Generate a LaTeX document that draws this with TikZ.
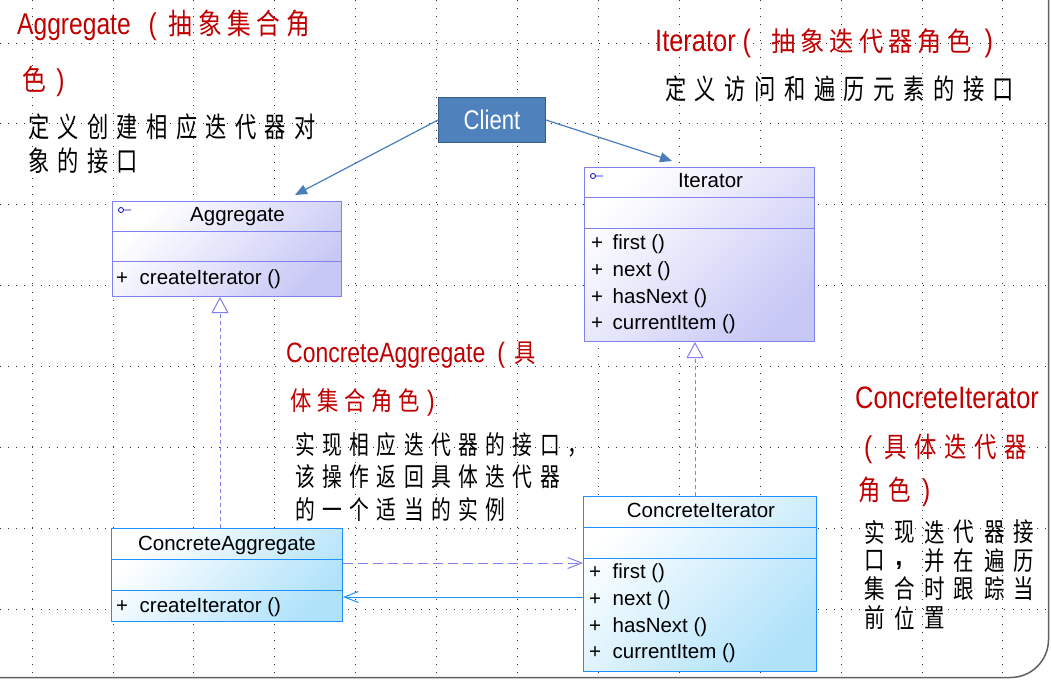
\documentclass[tikz,border=0pt]{standalone}
\usepackage{fontspec}
\usepackage{graphicx}
\setmainfont{Liberation Sans}
\newfontfamily\narrowfont[FakeStretch=0.82]{Liberation Sans}
\newfontfamily\cjk{Noto Sans CJK SC}
\usetikzlibrary{arrows.meta,calc}
\definecolor{ifaceB}{RGB}{128,128,240}
\definecolor{ifaceF}{RGB}{200,200,246}
\definecolor{implB}{RGB}{30,144,255}
\definecolor{implF}{RGB}{176,226,250}
\definecolor{cliF}{RGB}{79,129,189}
\definecolor{cliB}{RGB}{56,93,138}
\definecolor{cliline}{RGB}{74,126,187}
\definecolor{periw}{RGB}{128,128,240}
\definecolor{redtxt}{RGB}{192,0,0}
\definecolor{iconB}{RGB}{0,0,192}
\definecolor{frameC}{RGB}{96,96,96}
\makeatletter
\def\gapchars#1#2{\def\gc@gap{#1}\gc@loop#2\relax}
\def\gc@loop#1{\ifx\relax#1\else#1\hspace{\gc@gap}\expandafter\gc@loop\fi}
\makeatother
\newcommand\cjkline[4]{\scalebox{#2}[1]{\cjk\fontsize{#1}{#1}\selectfont\gapchars{#3}{#4}}}
\newcommand\nar[1]{\narrowfont\fontsize{#1}{#1}\selectfont}
\begin{document}
\begin{tikzpicture}[x=1pt,y=-1pt,
  gridline/.style={black!80, line width=0.8pt, dash pattern=on 0.8pt off 7.3pt},
  frameline/.style={draw=frameC, line width=1.5pt},
  ibox/.style={draw=ifaceB, line width=1pt, top color=white, bottom color=ifaceF, shading angle=45, inner sep=0, anchor=north west},
  cbox/.style={draw=implB, line width=1pt, top color=white, bottom color=implF, shading angle=45, inner sep=0, anchor=north west},
  iline/.style={draw=ifaceB, line width=1pt},
  cline/.style={draw=implB, line width=1pt},
  ttl/.style={inner sep=0, anchor=base, font=\fontsize{20.5}{24}\selectfont},
  mem/.style={inner sep=0, anchor=base west, font=\fontsize{20.5}{24}\selectfont},
  txt/.style={inner sep=0, anchor=base west},
  cliarrow/.style={draw=cliline, line width=1.2pt, -{Triangle[length=12pt,width=10pt]}},
  realize/.style={draw=periw, line width=1pt, dash pattern=on 4pt off 3pt, -{Triangle[length=16pt,width=17pt,fill=white]}},
  depend/.style={draw=periw, line width=1pt, dash pattern=on 10pt off 5pt, -{Straight Barb[length=14pt,width=11pt]}},
  assocB/.style={draw=implB, line width=1pt, -{Straight Barb[length=14pt,width=11pt]}},
  civ/.style={inner sep=0, anchor=center}
]
\useasboundingbox (0,0) rectangle (1051,684);
\fill[white] (0,0) rectangle (1051,684);
% grid
\foreach \i in {0,...,12} \draw[gridline] ({32+80.9*\i},0) -- ({32+80.9*\i},677);
\foreach \j in {0,...,7} \draw[gridline] (0,{43+80.9*\j}) -- (1048,{43+80.9*\j});
% frame
\draw[frameline, rounded corners=38pt] (1048.5,0) -- (1048.5,677.5) -- (0,677.5);

% ---- Aggregate
\node[ibox, minimum width=229pt, minimum height=95pt] (agg) at (112,201) {};
\draw[iline] ($(agg.north west)+(0,31)$) -- ($(agg.north east)+(0,31)$);
\draw[iline] ($(agg.north west)+(0,61)$) -- ($(agg.north east)+(0,61)$);
\draw[iconB, line width=0.8pt] ($(agg.north west)+(9,9)$) circle (2.5pt) ++(2.5,0) -- ++(7.5,0);
\node[ttl] (aggT) at (237.5,222) {Aggregate};
\node[mem] (aggP1) at (116,285) {+};
\node[mem] (aggM1) at (139.5,285) {createIterator ()};

% ---- Iterator
\node[ibox, minimum width=230pt, minimum height=174pt] (it) at (584,167) {};
\draw[iline] ($(it.north west)+(0,31)$) -- ($(it.north east)+(0,31)$);
\draw[iline] ($(it.north west)+(0,62)$) -- ($(it.north east)+(0,62)$);
\draw[iconB, line width=0.8pt] ($(it.north west)+(9,9)$) circle (2.5pt) ++(2.5,0) -- ++(7.5,0);
\node[ttl] (itT) at (710.5,188) {Iterator};
\node[mem] (itP1) at (591,250) {+};
\node[mem] (itM1) at (612.5,250) {first ()};
\node[mem] (itP2) at (591,277) {+};
\node[mem] (itM2) at (612.5,277) {next ()};
\node[mem] (itP3) at (591,303) {+};
\node[mem] (itM3) at (612.5,303) {hasNext ()};
\node[mem] (itP4) at (591,329) {+};
\node[mem] (itM4) at (612.5,329) {currentItem ()};

% ---- ConcreteAggregate
\node[cbox, minimum width=231pt, minimum height=93pt] (ca) at (111,528) {};
\draw[cline] ($(ca.north west)+(0,31)$) -- ($(ca.north east)+(0,31)$);
\draw[cline] ($(ca.north west)+(0,62)$) -- ($(ca.north east)+(0,62)$);
\node[ttl] (caT) at (227,550) {ConcreteAggregate};
\node[mem] (caP1) at (116,612) {+};
\node[mem] (caM1) at (139.5,612) {createIterator ()};

% ---- ConcreteIterator
\node[cbox, minimum width=233pt, minimum height=175pt] (ci) at (583,496) {};
\draw[cline] ($(ci.north west)+(0,31)$) -- ($(ci.north east)+(0,31)$);
\draw[cline] ($(ci.north west)+(0,62)$) -- ($(ci.north east)+(0,62)$);
\node[ttl] (ciT) at (701,517) {ConcreteIterator};
\node[mem] (ciP1) at (589,578) {+};
\node[mem] (ciM1) at (612.5,578) {first ()};
\node[mem] (ciP2) at (589,605) {+};
\node[mem] (ciM2) at (612.5,605) {next ()};
\node[mem] (ciP3) at (589,632) {+};
\node[mem] (ciM3) at (612.5,632) {hasNext ()};
\node[mem] (ciP4) at (589,658) {+};
\node[mem] (ciM4) at (612.5,658) {currentItem ()};

% ---- Client
\node[draw=cliB, fill=cliF, line width=1pt, anchor=north west, inner sep=0,
      minimum width=107pt, minimum height=45pt, text=white, font=\nar{27}] (client) at (438,97) {Client};

% ---- connectors
\coordinate (aggIn) at (295,195);
\coordinate (itIn) at (672,161);
\draw[cliarrow] (client.west) -- (aggIn);
\draw[cliarrow] (client.east) -- (itIn);
\draw[realize] ($(ca.north west)+(109,0)$) -- ($(agg.south west)+(108,0)$);
\draw[realize] ($(ci.north west)+(112,0)$) -- ($(it.south west)+(111,0)$);
\draw[depend] ($(ca.north east)+(0,35)$) -- ($(ci.north west)+(0,67)$);
\draw[assocB] ($(ci.north west)+(0,101)$) -- ($(ca.north east)+(0,69)$);

% ---- annotation texts
\node[txt, text=redtxt] (aggR1) at (17,35) {\nar{30}Aggregate\hspace{18pt}(\hspace{12pt}\cjkline{29}{0.82}{6.7pt}{抽象集合角}};
\node[txt, text=redtxt] (aggR2) at (22,91) {\cjkline{29}{0.82}{6.7pt}{色}\hspace{5pt}{\nar{30})}};
\node[txt] (aggB1) at (28,138) {\cjkline{28}{0.76}{10.9pt}{定义创建相应迭代器对}};
\node[txt] (aggB2) at (28,172) {\cjkline{28}{0.76}{10.9pt}{象的接口}};

\node[txt, text=redtxt] (itR1) at (655,52) {\nar{31}Iterator\hspace{7pt}(\hspace{20pt}\cjkline{27}{0.9}{5.6pt}{抽象迭代器角色}\hspace{8pt}{\nar{31})}};
\node[txt] (itB1) at (665,99.6) {\cjkline{28}{0.76}{11.2pt}{定义访问和遍历元素的接口}};

\node[txt, text=redtxt] (caR1) at (286,362) {\nar{28}ConcreteAggregate\hspace{12pt}(\hspace{10pt}\cjkline{26}{0.82}{6.9pt}{具}};
\node[txt, text=redtxt] (caR2) at (290,410) {\cjkline{26}{0.82}{6.9pt}{体集合角色}\hspace{2pt}{\nar{28})}};
\node[txt] (caB1) at (295,454.6) {\cjkline{26}{0.76}{9.8pt}{实现相应迭代器的接口，}};
\node[txt] (caB2) at (295,486.6) {\cjkline{26}{0.76}{9.8pt}{该操作返回具体迭代器}};
\node[txt] (caB3) at (295,519) {\cjkline{26}{0.76}{9.8pt}{的一个适当的实例}};

\node[txt, text=redtxt] (ciR1) at (855,408) {\nar{31}ConcreteIterator};
\node[txt, text=redtxt] (ciR2) at (858,457.6) {\hspace{6pt}{\nar{30}(}\hspace{12pt}\cjkline{28}{0.8}{9.5pt}{具体迭代器}};
\node[txt, text=redtxt] (ciR3) at (858,500.6) {\cjkline{28}{0.8}{9.5pt}{角色}\hspace{4pt}{\nar{30})}};

\foreach \ch/\cx/\cy in {实/875/532, 现/905/532, 迭/935/532, 代/964/532, 器/995/532, 接/1024/532,
  口/875/561, 并/935/561, 在/964/561, 遍/995/561, 历/1024/561,
  集/875/589, 合/905/589, 时/935/589, 跟/964/589, 踪/995/589, 当/1024/589,
  前/875/618, 位/905/618, 置/935/618}
  \node[civ] (cib\cx x\cy) at (\cx,\cy) {\scalebox{0.82}[1.04]{\cjk\fontsize{25}{25}\selectfont\ch}};
\node[civ] (cibcomma) at (899,566) {\fontsize{26}{26}\selectfont\bfseries ,};
\end{tikzpicture}
\end{document}
